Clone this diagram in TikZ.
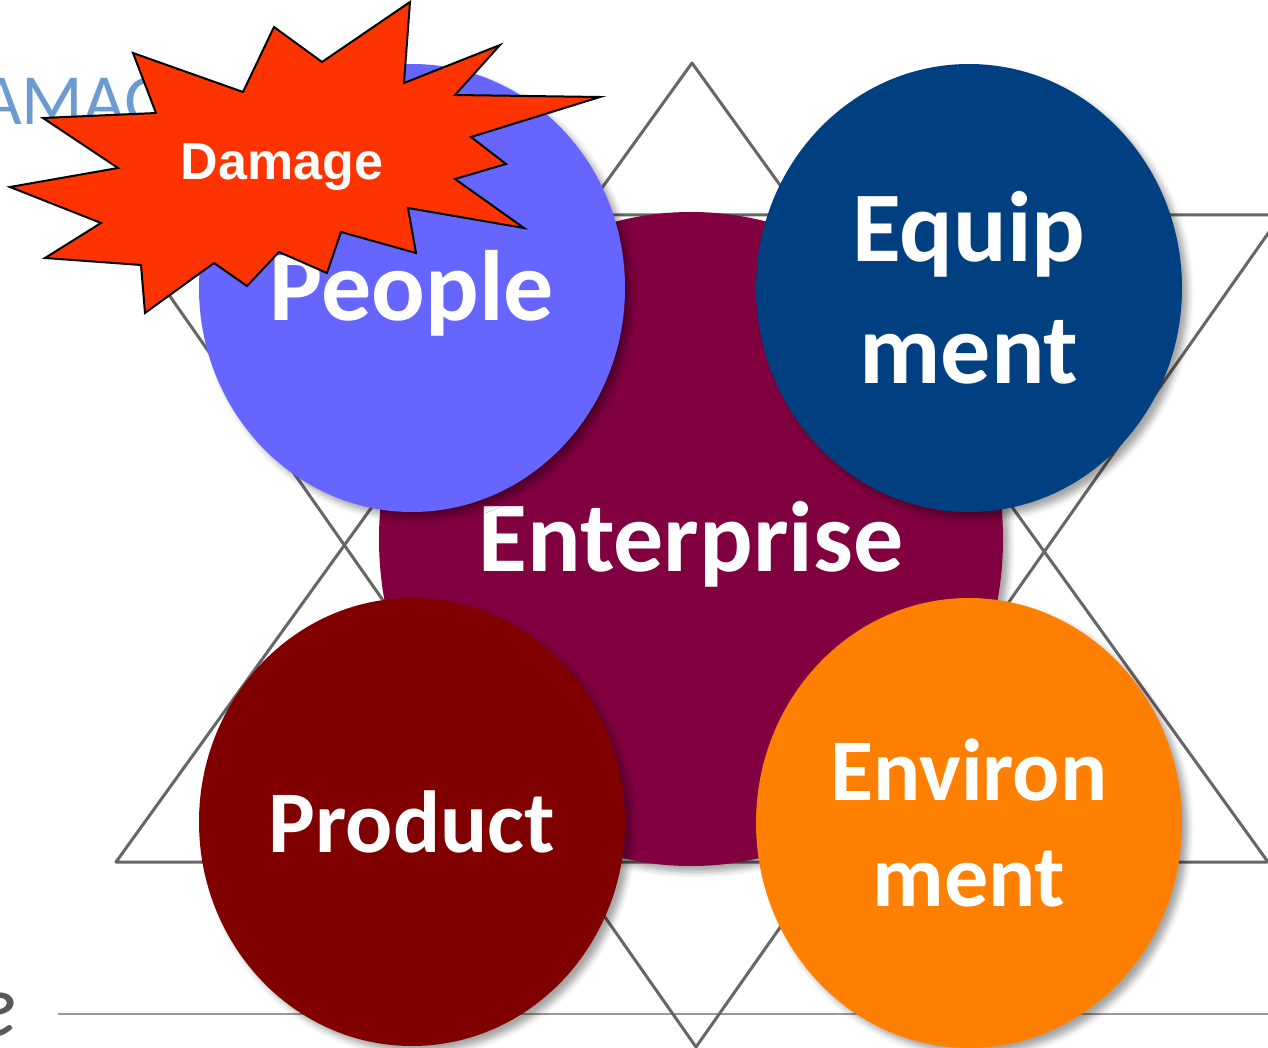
\documentclass[tikz,border=0pt]{standalone}
\usepackage{fontspec}
\setmainfont{Carlito}
\newfontfamily\burstfont{Liberation Sans}
\usetikzlibrary{shapes.geometric,shadows.blur}

\definecolor{peoplecol}{HTML}{6666FF}
\definecolor{equipcol}{HTML}{003F80}
\definecolor{enterprisecol}{HTML}{800040}
\definecolor{productcol}{HTML}{800000}
\definecolor{environcol}{HTML}{FF8000}
\definecolor{burstcol}{HTML}{FF3300}
\definecolor{titlecol}{HTML}{6B9BCF}

\tikzset{
    disc/.style={ellipse, inner sep=0pt, text=white, align=center,
        blur shadow={shadow xshift=3pt, shadow yshift=-3pt,
            shadow blur radius=3pt, shadow opacity=35}},
    bigtext/.style={font=\bfseries\fontsize{50}{61}\selectfont},
    smalltext/.style={font=\bfseries\fontsize{44}{53}\selectfont},
    tri/.style={draw=black!60, line width=1.5pt, line join=round},
}

\begin{document}
\begin{tikzpicture}[x=0.5pt, y=-0.5pt]
    \useasboundingbox (0, 0) rectangle (1268, 1048);

    \node[anchor=base west, text=titlecol, font=\fontsize{36}{40}\selectfont]
        (title) at (-27, 125) {AMAG};
    \node[anchor=base east, text=black!65, font=\itshape\fontsize{45}{50}\selectfont]
        (footer) at (24, 1036) {e};
    \coordinate (rule west) at (58, 1014);
    \coordinate (rule east) at (1268, 1014);
    \draw[black!40, line width=1pt] (rule west) -- (rule east);

    % star of david
    \draw[tri] (692, 63) -- (116, 862) -- (1268, 862) -- cycle;
    \draw[tri] (113, 215) -- (1281, 215) -- (696, 1047) -- cycle;

    \node[disc, bigtext, text depth=3pt, fill=enterprisecol,
        minimum width=312pt, minimum height=327pt]
        (enterprise) at (691, 539) {Enterprise};
    \node[disc, bigtext, text depth=3pt, fill=peoplecol,
        minimum width=213pt, minimum height=224pt]
        (people) at (412, 288) {People};
    \node[disc, bigtext, fill=equipcol, minimum width=213pt, minimum height=224pt]
        (equip) at (969, 288) {Equip\\ment};
    \node[disc, smalltext, fill=productcol, minimum width=213pt, minimum height=224pt]
        (product) at (412, 822) {Product};
    \node[disc, smalltext, fill=environcol, minimum width=213pt, minimum height=225pt]
        (environ) at (969, 823) {Environ\\ment};

    % damage burst
    \draw[fill=burstcol, line width=1pt, line join=miter]
        (410, 2) -- (404, 83) -- (500, 45) -- (455, 95) -- (600, 97)
        -- (471, 137) -- (506, 164) -- (455, 179) -- (524, 228) -- (408, 208)
        -- (416, 253) -- (341, 232) -- (327, 273) -- (279, 252) -- (247, 286)
        -- (214, 263) -- (145, 313) -- (141, 265) -- (45, 258) -- (101, 223)
        -- (10, 187) -- (118, 168) -- (43, 118) -- (156, 113) -- (133, 53)
        -- (243, 92) -- (274, 27) -- (322, 62) -- cycle;
    \node[text=white, font=\burstfont\bfseries\fontsize{26}{30}\selectfont]
        (damage) at (282, 167) {Damage};
\end{tikzpicture}
\end{document}
